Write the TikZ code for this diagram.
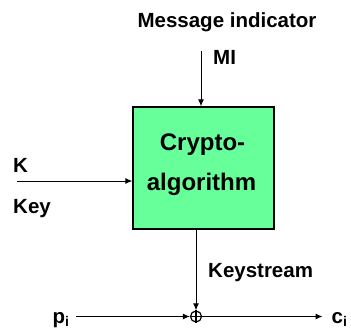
\documentclass[tikz,border=0pt]{standalone}
\usepackage{fontspec}
\setmainfont{Liberation Sans}
\usetikzlibrary{arrows.meta}
\definecolor{boxgreen}{HTML}{66FF99}
\begin{document}
\begin{tikzpicture}[x=1pt,y=-1pt,
  lbl/.style={inner sep=0pt,font=\bfseries\fontsize{20.5}{24}\selectfont},
  boxlbl/.style={inner sep=0pt,font=\bfseries\fontsize{24}{28}\selectfont},
  flow/.style={line width=1pt,-{Latex[length=7pt,width=6pt]}}]
\useasboundingbox (0,0) rectangle (351,329);

% crypto block
\node[draw,line width=1.3pt,fill=boxgreen,minimum width=141pt,minimum height=122pt,inner sep=0pt]
  (algo) at (203.5,168) {};
\node[boxlbl,anchor=base] (cr) at (202.5,150) {Crypto-};
\node[boxlbl,anchor=base] (al) at (201.5,190) {algorithm};

% labels
\node[lbl,anchor=base] (mind) at (227,28) {Message indicator};
\node[lbl,anchor=base west] (mi) at (213,65) {MI};
\node[lbl,anchor=base west] (k) at (13,172) {K};
\node[lbl,anchor=base west] (key) at (13,213) {Key};
\node[lbl,anchor=base west] (ks) at (208,277) {Keystream};
\node[lbl,anchor=base west] (p) at (52.5,323) {p\raisebox{-3pt}{\fontsize{14}{14}\selectfont i}};
\node[lbl,anchor=base west] (c) at (331.5,323) {c\raisebox{-3pt}{\fontsize{14}{14}\selectfont i}};

% xor
\node[draw,circle,line width=1.2pt,minimum size=11pt,inner sep=0pt] (xor) at (196,316.5) {};
\draw[line width=1.2pt] (xor.north) -- (xor.south) (xor.west) -- (xor.east);

% connectors
\coordinate (mitop) at (201,51);
\coordinate (kin) at (17,181);
\coordinate (pin) at (76,316.5);
\coordinate (cout) at (322.5,316.5);
\draw[flow] (mitop) -- (mitop |- algo.north);
\draw[flow] (kin) -- (kin -| algo.west);
\draw[flow] (algo.south -| xor) -- (xor.north);
\draw[flow] (pin) -- (xor.west);
\draw[flow] (xor.east) -- (cout);
\end{tikzpicture}
\end{document}
